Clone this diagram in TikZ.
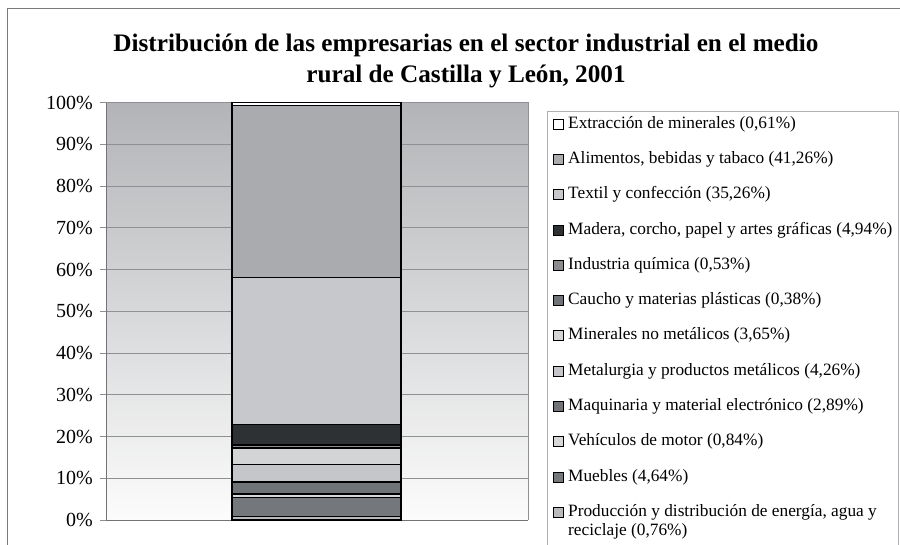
\documentclass[tikz,border=0pt]{standalone}
\usepackage{fontspec}
\setmainfont{Liberation Serif}
\definecolor{cprod}{HTML}{B8BABD}
\definecolor{cmueb}{HTML}{74777B}
\definecolor{cvehi}{HTML}{D6D7D9}
\definecolor{cmaqu}{HTML}{707377}
\definecolor{cmeta}{HTML}{C4C6C9}
\definecolor{cmine}{HTML}{D3D4D6}
\definecolor{ccauc}{HTML}{6F7276}
\definecolor{cquim}{HTML}{8A8C90}
\definecolor{cmade}{HTML}{2E3134}
\definecolor{ctext}{HTML}{C6C8CB}
\definecolor{calim}{HTML}{A9ABAE}
\definecolor{cextr}{HTML}{FFFFFF}
\definecolor{gridc}{HTML}{8E9093}
\definecolor{framec}{HTML}{7A7A7A}
\tikzset{
  seg/.style={draw=black, line width=1.2pt},
  legsq/.style={draw=black, line width=0.7pt, minimum size=10pt, inner sep=0pt},
  legtxt/.style={anchor=west, inner sep=0pt, font=\fontsize{17.3}{18}\selectfont},
  ylab/.style={anchor=east, inner sep=0pt, font=\fontsize{20}{22}\selectfont},
  gridl/.style={draw=gridc, line width=0.8pt},
}
\begin{document}
\begin{tikzpicture}[x=1pt,y=-1pt]
\useasboundingbox (0,0) rectangle (900,545);
\fill[white] (0,0) rectangle (900,545);
% outer frame
\draw[framec, line width=1pt] (7,560) -- (7,9) -- (910,9);
% title
\node[align=center, font=\bfseries\fontsize{25.2}{31}\selectfont] (title) at (466,61)
  {Distribución de las empresarias en el sector industrial en el medio\\rural de Castilla y León, 2001};
% plot area
\shade[top color={rgb,255:red,178;green,180;blue,183}, bottom color={rgb,255:red,252;green,252;blue,252}] (106,102.7) rectangle (528,520);
\foreach \i in {0,...,10}{
  \pgfmathsetmacro{\yy}{520-41.73*\i}
  \draw[gridl] (100,\yy) -- (528,\yy);
  \pgfmathtruncatemacro{\pc}{10*\i}
  \node[ylab] (yl\i) at (93,\yy) {\pc\%};
}
\draw[gridl] (106,102.7) -- (528,102.7) -- (528,520);
\draw[draw=gridc!80!black, line width=1pt] (106,102.7) -- (106,520) -- (528,520);
% stacked bar
\foreach \a/\b/\c in {0/0.76/cprod, 0.76/5.40/cmueb, 5.40/6.24/cvehi, 6.24/9.13/cmaqu, 9.13/13.39/cmeta, 13.39/17.04/cmine, 17.04/17.42/ccauc, 17.42/17.95/cquim, 17.95/22.89/cmade, 22.89/58.15/ctext, 58.15/99.41/calim, 99.41/100/cextr}{
  \pgfmathsetmacro{\ya}{520-4.173*\a}
  \pgfmathsetmacro{\yb}{520-4.173*\b}
  \filldraw[seg, fill=\c] (232,\ya) rectangle (401,\yb);
}
% legend
\draw[draw=gridc!70, line width=0.9pt] (547,560) -- (547,111) -- (898,111) -- (898,560);
\foreach \c/\t [count=\k from 0] in {
  cextr/{Extracción de minerales (0,61\%)},
  calim/{Alimentos, bebidas y tabaco (41,26\%)},
  ctext/{Textil y confección (35,26\%)},
  cmade/{Madera, corcho, papel y artes gráficas (4,94\%)},
  cquim/{Industria química (0,53\%)},
  ccauc/{Caucho y materias plásticas (0,38\%)},
  cmine/{Minerales no metálicos (3,65\%)},
  cmeta/{Metalurgia y productos metálicos (4,26\%)},
  cmaqu/{Maquinaria y material electrónico (2,89\%)},
  cvehi/{Vehículos de motor (0,84\%)},
  cmueb/{Muebles (4,64\%)},
  cprod/{Producción y distribución de energía, agua y}}{
  \pgfmathsetmacro{\yy}{124+35.3*\k}
  \node[legsq, fill=\c] (sq\k) at (558.5,\yy) {};
  \node[legtxt] (lt\k) at (568,\yy) {\t};
}
\node[legtxt] (lt12) at (568,531) {reciclaje (0,76\%)};
\end{tikzpicture}
\end{document}
